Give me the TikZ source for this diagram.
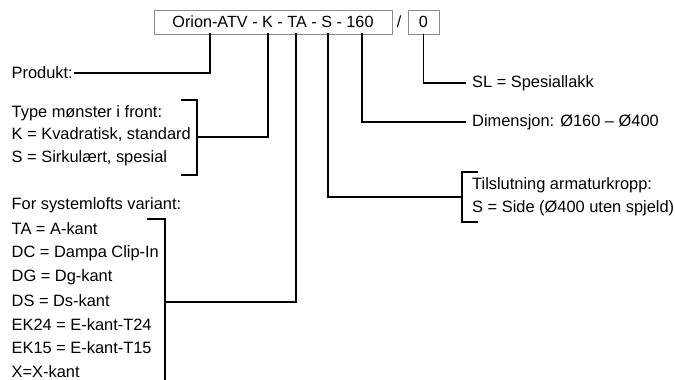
\documentclass[tikz,border=0pt]{standalone}
\usepackage{fontspec}
\setmainfont{Liberation Sans}
\begin{document}
\begin{tikzpicture}[x=1pt,y=-1pt,
  txt/.style={anchor=west,inner sep=0pt,font=\fontsize{16.4}{19}\selectfont},
  codebox/.style={draw=black!45,line width=0.7pt,minimum height=24pt,inner sep=0pt,font=\fontsize{16.2}{19}\selectfont},
  conn/.style={line width=1.6pt,line cap=rect}]
\useasboundingbox (0,0) rectangle (675,380);
% code boxes
\node[codebox,minimum width=238pt] (main) at (273,22) {Orion-ATV - K - TA - S - 160};
\node[inner sep=0pt,font=\fontsize{16.2}{19}\selectfont] (sl) at (399,22) {/};
\node[codebox,minimum width=31pt] (zero) at (423.5,22) {0};
% tap points under the codes
\coordinate (tP) at (210,34);
\coordinate (tK) at (268,34);
\coordinate (tTA) at (296,34);
\coordinate (tS) at (328,34);
\coordinate (t160) at (362,34);
\coordinate (tZ) at (zero.south);
% texts
\node[txt] (prod) at (11.5,73) {Produkt:};
\node[txt] (ty1) at (11.5,113) {Type mønster i front:};
\node[txt] (ty2) at (11.5,135) {K = Kvadratisk, standard};
\node[txt] (ty3) at (11.5,158) {S = Sirkulært, spesial};
\node[txt] (sy0) at (11.5,205) {For systemlofts variant:};
\node[txt] (sy1) at (11.5,229) {TA = A-kant};
\node[txt] (sy2) at (11.5,253) {DC = Dampa Clip-In};
\node[txt] (sy3) at (11.5,277) {DG = Dg-kant};
\node[txt] (sy4) at (11.5,301) {DS = Ds-kant};
\node[txt] (sy5) at (11.5,325) {EK24 = E-kant-T24};
\node[txt] (sy6) at (11.5,348) {EK15 = E-kant-T15};
\node[txt] (sy7) at (11.5,372) {X=X-kant};
\node[txt] (slk) at (472,83) {SL = Spesiallakk};
\node[txt] (dim) at (472,122) {Dimensjon: Ø160 – Ø400};
\node[txt] (ti1) at (472,185) {Tilslutning armaturkropp:};
\node[txt] (ti2) at (472,208) {S = Side (Ø400 uten spjeld)};
% brackets
\coordinate (bKt) at (197,100); \coordinate (bKb) at (197,175); \coordinate (bKm) at (197,137);
\coordinate (bTt) at (165,219); \coordinate (bTb) at (165,380); \coordinate (bTm) at (165,302);
\coordinate (bSt) at (462,172); \coordinate (bSb) at (462,222); \coordinate (bSm) at (462,197);
\draw[conn] ([xshift=-15pt]bKt) -- (bKt) -- (bKb) -- ([xshift=-15pt]bKb);
\draw[conn] ([xshift=-17pt]bTt) -- (bTt) -- (bTb);
\draw[conn] ([xshift=15pt]bSt) -- (bSt) -- (bSb) -- ([xshift=15pt]bSb);
% connectors
\draw[conn] ([xshift=2pt]prod.east) -| (tP);
\draw[conn] (bKm) -| (tK);
\draw[conn] (bTm) -| (tTA);
\draw[conn] (bSm) -| (tS);
\draw[conn] ([xshift=-7pt]dim.west) -| (t160);
\draw[conn] ([xshift=-7pt]slk.west) -| (tZ);
\end{tikzpicture}
\end{document}
